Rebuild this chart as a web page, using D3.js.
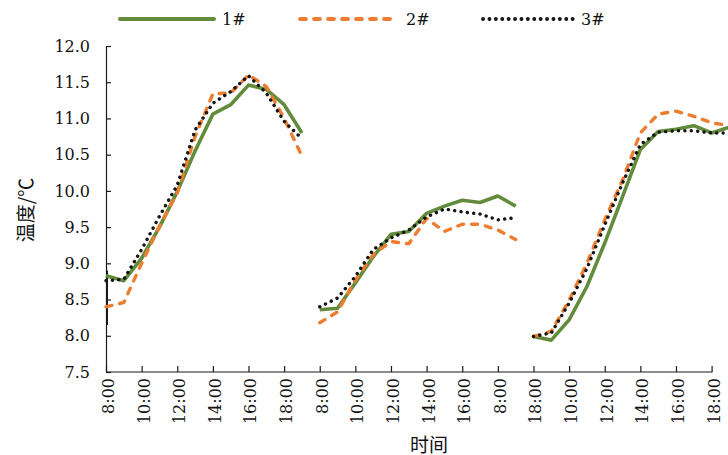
<!DOCTYPE html>
<html><head><meta charset="utf-8">
<script src="https://cdn.jsdelivr.net/npm/d3@7"></script>
<style>body{margin:0;background:#fff}svg{display:block}</style>
</head><body><svg id="c" width="728" height="455"></svg>
<script>
const xLabels = ["8:00","10:00","12:00","14:00","16:00","18:00","8:00","10:00","12:00","14:00","16:00","8:00","18:00","10:00","12:00","14:00","16:00","18:00"];
const yTicks = [7.5,8.0,8.5,9.0,9.5,10.0,10.5,11.0,11.5,12.0];
const segmentStarts = [0,12,24];
const segmentLength = 12;
const seriesNames = ["1#","2#","3#"];
const s1 = [8.83,8.76,9.07,9.50,9.99,10.55,11.06,11.19,11.46,11.40,11.19,10.80,
            8.36,8.38,8.73,9.09,9.40,9.44,9.69,9.79,9.87,9.84,9.93,9.79,
            7.99,7.94,8.22,8.68,9.28,9.92,10.57,10.82,10.85,10.90,10.80,10.88];
const s2 = [8.40,8.46,9.00,9.51,9.97,10.75,11.34,11.35,11.60,11.44,11.00,10.48,
            8.18,8.33,8.77,9.12,9.30,9.27,9.62,9.44,9.54,9.54,9.46,9.33,
            7.99,8.06,8.49,9.00,9.60,10.15,10.80,11.06,11.10,11.03,10.94,10.90];
const s3 = [8.76,8.78,9.19,9.65,10.08,10.84,11.21,11.37,11.59,11.35,10.96,10.72,
            8.40,8.52,8.82,9.19,9.35,9.46,9.64,9.75,9.71,9.68,9.60,9.63,
            7.99,8.04,8.45,8.93,9.53,10.11,10.64,10.81,10.83,10.83,10.80,10.80];

const svg = d3.select("#c");
const x = d3.scaleLinear().domain([0,34]).range([106,711.6]);
const y = d3.scaleLinear().domain([7.5,12.0]).range([372,46]);
const font = "'DejaVu Serif', serif";

const styles = [
  {color:"#628c3b", width:3.6, dash:null, cap:"butt"},
  {color:"#ed7d31", width:3.4, dash:"6,8", cap:"round"},
  {color:"#151515", width:3.4, dash:"0.1,6.3", cap:"round"}
];
const series = [s1,s2,s3];

// axes
const yAxis = d3.axisLeft(y).tickValues(yTicks).tickSizeInner(-5).tickSizeOuter(0).tickPadding(16)
  .tickFormat(d3.format(".1f"));
const gy = svg.append("g").attr("transform","translate(106,0)").call(yAxis);
gy.selectAll("text").attr("font-family",font).attr("font-size",16).attr("fill","#111");
gy.selectAll("line,path").attr("stroke","#1a1a1a").attr("stroke-width",1.2);
// darker stretch of the axis line near the start of the data
svg.append("line").attr("x1",107).attr("x2",107).attr("y1",y(8.9)).attr("y2",y(8.15))
  .attr("stroke","#1a1a1a").attr("stroke-width",2);

const xAxis = d3.axisBottom(x).tickValues(d3.range(0,35,2)).tickSizeInner(-6).tickSizeOuter(0).tickPadding(0)
  .tickFormat((d,i)=>xLabels[i]);
const gx = svg.append("g").attr("transform","translate(0,372)").call(xAxis);
gx.select(".domain").attr("d","M106,0H712.5");
gx.selectAll("line,path").attr("stroke","#1a1a1a").attr("stroke-width",1.2);
gx.selectAll("text").attr("font-family",font).attr("font-size",16).attr("fill","#111")
  .attr("text-anchor","end").attr("dy",null).attr("y",0)
  .attr("dominant-baseline","central")
  .attr("transform","translate(2,6) rotate(-90)");

// lines
const line = d3.line().x(d=>x(d.i)).y(d=>y(d.v));
series.forEach((s,k)=>{
  segmentStarts.forEach(st=>{
    const pts = d3.range(st, st+segmentLength).map(i=>({i, v:s[i]}));
    const p = svg.append("path").datum(pts).attr("d",line)
      .attr("fill","none").attr("stroke",styles[k].color)
      .attr("stroke-width",styles[k].width).attr("stroke-linecap",styles[k].cap)
      .attr("stroke-linejoin","round");
    if(styles[k].dash) p.attr("stroke-dasharray",styles[k].dash);
  });
});

// legend
const legendX = [120,300,483];
const legendLen = [94,98,90];
seriesNames.forEach((n,k)=>{
  const g = svg.append("g");
  const l = g.append("line").attr("x1",legendX[k]).attr("x2",legendX[k]+legendLen[k])
    .attr("y1",19).attr("y2",19).attr("stroke",styles[k].color)
    .attr("stroke-width",styles[k].width+0.4).attr("stroke-linecap",styles[k].cap==="butt"?"round":styles[k].cap);
  if(styles[k].dash) l.attr("stroke-dasharray",styles[k].dash);
  g.append("text").attr("x",legendX[k]+legendLen[k]+8).attr("y",19)
    .attr("dominant-baseline","central").attr("font-family",font).attr("font-size",16)
    .attr("fill","#111").text(n);
});

// axis titles
svg.append("text").attr("x",429).attr("y",443).attr("text-anchor","middle")
  .attr("dominant-baseline","central").attr("font-family","'Noto Sans CJK SC', sans-serif")
  .attr("font-size",19).attr("fill","#111").text("时间");
svg.append("text").attr("transform","translate(24,210) rotate(-90)").attr("text-anchor","middle")
  .attr("dominant-baseline","central").attr("font-family","'Noto Sans CJK SC', sans-serif")
  .attr("font-size",19).attr("fill","#111").text("温度/℃");
</script></body></html>
